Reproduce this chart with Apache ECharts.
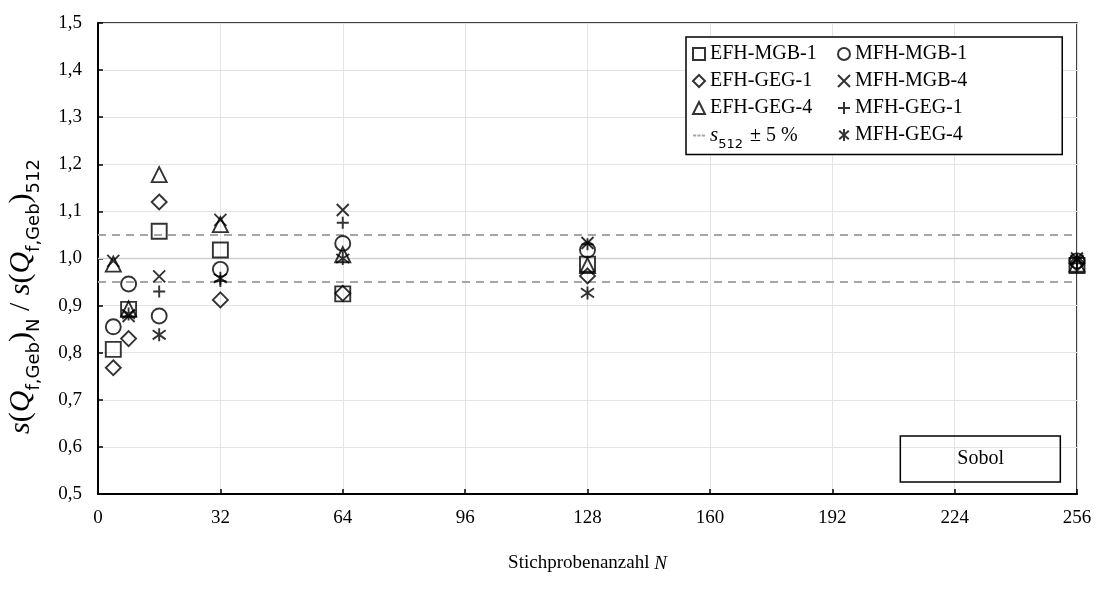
<!DOCTYPE html>
<html>
<head>
<meta charset="utf-8">
<script src="https://cdn.jsdelivr.net/npm/echarts@6/dist/echarts.min.js"></script>
<style>
  html, body { margin: 0; padding: 0; background: #fff; }
  #chart { width: 1097px; height: 593px; }
</style>
</head>
<body>
<div id="chart"></div>
<script>
// sample sizes N
var nValues = [4, 8, 16, 32, 64, 128, 256];

// s(Q)_N / s(Q)_512 per building variant (null = not visible)
var efhMgb1 = [0.807, 0.892, 1.058, 1.018, 0.925, 0.988, 0.985];
var efhGeg1 = [0.768, 0.830, 1.120, 0.912, 0.926, 0.963, 0.990];
var efhGeg4 = [0.988, 0.893, 1.178, 1.072, 1.008, 0.985, 0.988];
var mfhMgb1 = [0.855, 0.946, 0.878, 0.977, 1.032, 1.018, 0.995];
var mfhMgb4 = [0.995, 0.878, 0.962, 1.082, 1.103, 1.033, 1.000];
var mfhGeg1 = [null, null, 0.930, 0.952, 1.076, 1.030, 0.990];
var mfhGeg4 = [null, 0.882, 0.838, 0.958, 1.000, 0.927, 0.997];

// reference band s512 +- 5 %
var refName = 's512 ± 5 %';
var refUpper = 1.05;
var refLower = 0.95;
var refMid = 1.0;
var xRange = [0, 256];

var yTicks = [0.5, 1.5, 0.1];
var xTicks = [0, 256, 32];

var leftColumn = ['EFH-MGB-1', 'EFH-GEG-1', 'EFH-GEG-4'];

var font = 'Liberation Serif';

var crossPath = 'path://M0,0L10,10M10,0L0,10';
var plusPath = 'path://M5,0L5,10M0,5L10,5';
var starPath = 'path://M1,1.5L9,8.5M9,1.5L1,8.5M5,0L5,10';
var dashIcon = 'path://M0,4h3.2v2h-3.2zM4.4,4h3.2v2h-3.2zM8.8,4h3.2v2h-3.2z';

function pts(vals) {
    var out = [];
    for (var i = 0; i < nValues.length; i++) {
        if (vals[i] != null) {
            out.push([nValues[i], vals[i]]);
        }
    }
    return out;
}

function scatter(name, vals, symbol, size) {
    return {
        name: name,
        type: 'scatter',
        data: pts(vals),
        symbol: symbol,
        symbolSize: size,
        z: 5,
        itemStyle: {
            color: 'rgba(0,0,0,0)',
            borderColor: '#000',
            borderWidth: 1.9
        }
    };
}

function hline(name, y, style) {
    return {
        name: name,
        type: 'line',
        data: [[xRange[0], y], [xRange[1], y]],
        symbol: 'none',
        silent: true,
        z: 3,
        itemStyle: { color: style.color },
        lineStyle: style
    };
}

var dashStyle = { color: '#a6a6a6', width: 2, type: [8, 6] };

var option = {
    animation: false,
    backgroundColor: '#fff',
    grid: {
        left: 98,
        right: 20,
        top: 23,
        bottom: 99,
        outerBoundsMode: 'none',
        show: true,
        borderColor: '#000',
        borderWidth: 1.5
    },
    title: {
        text: 'Sobol',
        right: 36,
        top: 436,
        borderColor: '#000',
        borderWidth: 1.5,
        padding: [13, 57],
        textStyle: { fontFamily: font, fontSize: 20, fontWeight: 'normal', color: '#000' }
    },
    legend: {
        orient: 'vertical',
        left: 686,
        top: 37,
        height: 122,
        itemWidth: 12,
        itemHeight: 12,
        itemGap: 7,
        padding: [7, 95, 3, 6],
        borderColor: '#000',
        borderWidth: 1.5,
        backgroundColor: '#fff',
        data: ['EFH-MGB-1', 'EFH-GEG-1', 'EFH-GEG-4', { name: refName, icon: dashIcon },
               'MFH-MGB-1', 'MFH-MGB-4', 'MFH-GEG-1', 'MFH-GEG-4'],
        formatter: function (name) {
            if (name === refName) {
                return '{it|s}{sub|512}{t| ± 5 %}';
            }
            if (leftColumn.indexOf(name) >= 0) {
                return '{l|' + name + '}';
            }
            return '{t|' + name + '}';
        },
        textStyle: {
            fontFamily: font,
            fontSize: 20,
            color: '#000',
            rich: {
                t: { fontFamily: font, fontSize: 20, lineHeight: 20, verticalAlign: 'middle' },
                l: { fontFamily: font, fontSize: 20, lineHeight: 20, verticalAlign: 'middle', width: 120 },
                it: { fontFamily: font, fontStyle: 'italic', fontSize: 21, lineHeight: 20, verticalAlign: 'middle' },
                sub: { fontFamily: 'DejaVu Sans', fontSize: 13, lineHeight: 13, verticalAlign: 'bottom', padding: [0, 2, -6, 0] }
            }
        }
    },
    xAxis: {
        type: 'value',
        min: xTicks[0],
        max: xTicks[1],
        interval: xTicks[2],
        name: '{t|Stichprobenanzahl }{it|N}',
        nameLocation: 'middle',
        nameGap: 60,
        nameTextStyle: {
            rich: {
                t: { fontFamily: font, fontSize: 19, color: '#000' },
                it: { fontFamily: font, fontSize: 19, fontStyle: 'italic', color: '#000' }
            }
        },
        axisLine: { show: true, lineStyle: { color: '#000', width: 2 } },
        axisTick: { show: true, inside: true, length: 5, lineStyle: { color: '#000', width: 1.5 } },
        axisLabel: { fontFamily: font, fontSize: 19, color: '#000', margin: 15 },
        splitLine: { show: true, lineStyle: { color: '#e3e3e3', width: 1 } }
    },
    yAxis: {
        type: 'value',
        min: yTicks[0],
        max: yTicks[1],
        interval: yTicks[2],
        name: '{it|s}{t|(}{it|Q}{sub|f,Geb}{t|)}{sub|N}{t| / }{it|s}{t|(}{it|Q}{sub|f,Geb}{t|)}{sub|512}',
        nameLocation: 'middle',
        nameGap: 60,
        nameTextStyle: {
            padding: [0, 76, 0, 0],
            rich: {
                t: { fontFamily: font, fontSize: 30, lineHeight: 34, verticalAlign: 'middle', color: '#000' },
                it: { fontFamily: font, fontSize: 30, lineHeight: 34, fontStyle: 'italic', verticalAlign: 'middle', color: '#000' },
                sub: { fontFamily: 'DejaVu Sans', fontSize: 18, lineHeight: 18, verticalAlign: 'bottom', padding: [0, 0, -5, 0], color: '#000' }
            }
        },
        axisLine: { show: true, lineStyle: { color: '#000', width: 2 } },
        axisTick: { show: true, inside: true, length: 5, lineStyle: { color: '#000', width: 1.5 } },
        axisLabel: {
            fontFamily: font,
            fontSize: 19,
            color: '#000',
            margin: 16,
            formatter: function (v) { return v.toFixed(1).replace('.', ','); }
        },
        splitLine: { show: true, lineStyle: { color: '#e3e3e3', width: 1 } }
    },
    series: [
        hline('s512', refMid, { color: '#cfcfcf', width: 1.5, type: 'solid' }),
        hline(refName, refUpper, dashStyle),
        hline(refName, refLower, dashStyle),
        scatter('EFH-MGB-1', efhMgb1, 'rect', 15),
        scatter('EFH-GEG-1', efhGeg1, 'diamond', 15),
        scatter('EFH-GEG-4', efhGeg4, 'triangle', 15),
        scatter('MFH-MGB-1', mfhMgb1, 'circle', 15),
        scatter('MFH-MGB-4', mfhMgb4, crossPath, 12),
        scatter('MFH-GEG-1', mfhGeg1, plusPath, 12),
        scatter('MFH-GEG-4', mfhGeg4, starPath, 13)
    ]
};

var chartDom = document.getElementById('chart');
var chart = echarts.init(chartDom);
chart.setOption(option, true);
</script>
</body>
</html>
